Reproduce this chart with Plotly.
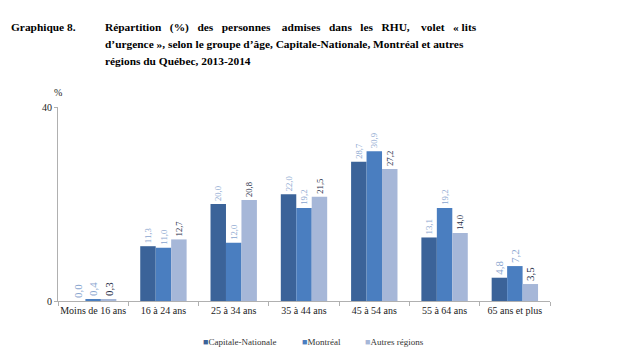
import plotly.graph_objects as go

categories = ["Moins de 16 ans", "16 à 24 ans", "25 à 34 ans", "35 à 44 ans",
              "45 à 54 ans", "55 à 64 ans", "65 ans et plus"]
capitale = [0.0, 11.3, 20.0, 22.0, 28.7, 13.1, 4.8]
montreal = [0.4, 11.0, 12.0, 19.2, 30.9, 19.2, 7.2]
autres = [0.3, 12.7, 20.8, 21.5, 27.2, 14.0, 3.5]
series_names = ["Capitale-Nationale", "Montréal", "Autres régions"]
y_ticks = [0, 40]

colors = ["#3b6399", "#4a7ec0", "#a6b7d8"]
label_colors = ["#8aa6cf", "#8aa6cf", "#1d2a44"]

def fmt(v):
    return f"{v:.1f}".replace(".", ",")

font = "Times New Roman, Liberation Serif, serif"
fig = go.Figure()
for name, vals, c, lc in zip(series_names, [capitale, montreal, autres], colors, label_colors):
    fig.add_trace(go.Bar(
        x=categories, y=vals, name=name, marker=dict(color=c, line=dict(width=0)),
        text=[fmt(v) for v in vals], textposition="outside", textangle=-90,
        cliponaxis=False, showlegend=False,
        textfont=dict(family=font, size=11, color=lc),
    ))

L, R, T, B = 58, 85, 107, 56
PW, PH = 635 - L - R, 357 - T - B

fig.update_layout(
    width=635, height=357,
    margin=dict(l=L, r=R, t=T, b=B, autoexpand=False),
    paper_bgcolor="white", plot_bgcolor="white",
    barmode="group", bargap=0.34, bargroupgap=0,
    font=dict(family=font, size=10, color="#222"),
    xaxis=dict(showline=True, linecolor="#b0b0b0", linewidth=1,
               ticks="outside", tickcolor="#b0b0b0", ticklen=4,
               tickson="boundaries", showgrid=False, tickangle=0,
               tickfont=dict(family=font, size=10, color="#222")),
    yaxis=dict(range=[0, 40], tickvals=y_ticks, showline=True, linecolor="#b0b0b0",
               linewidth=1, showgrid=False, zeroline=False, ticks="outside",
               tickcolor="#b0b0b0", ticklen=3,
               tickfont=dict(family=font, size=10, color="#222")),
)

def py(pix):
    return 1 + (T - pix) / PH
def px(pix):
    return (pix - L) / PW

fig.add_annotation(text="%", xref="paper", yref="paper", x=0, y=py(92),
                   xanchor="center", yanchor="middle", showarrow=False,
                   font=dict(family=font, size=10, color="#222"))

# legend built from series names/colours
leg_x = [201, 300, 363]
for name, c, lx in zip(series_names, colors, leg_x):
    fig.add_annotation(text=f'<span style="color:{c}">■</span>{name}',
                       xref="paper", yref="paper", x=px(lx), y=py(342),
                       xanchor="left", yanchor="middle", showarrow=False,
                       font=dict(family=font, size=9, color="#333"))

title_font = dict(family=font, size=11.4, color="black")
fig.add_annotation(text="<b>Graphique 8.</b>", xref="paper", yref="paper",
                   x=px(9), y=py(27), yanchor="middle", xanchor="left", showarrow=False,
                   font=title_font)
nb = "\u00a0"
line1_words = ["Répartition", "(%)", "des", "personnes", "admises", "dans", "les", "RHU,", "volet", "«" + nb + "lits"]
gaps = [2, 2, 2, 3, 2, 2, 2, 3, 2]
line1 = line1_words[0]
for w, g in zip(line1_words[1:], gaps):
    line1 += " " + nb * g + w
lines = ["<b>" + line1 + "</b>",
         "<b>d’urgence », selon le groupe d’âge, Capitale-Nationale, Montréal et autres</b>",
         "<b>régions du Québec, 2013-2014</b>"]
ys = [27, 44, 61]
for t, yy in zip(lines, ys):
    fig.add_annotation(text=t, xref="paper", yref="paper",
                       x=px(103), y=py(yy), xanchor="left", yanchor="middle",
                       showarrow=False, font=title_font)

fig.write_html("out.html", config={"displayModeBar": False},
               post_script="document.body.style.margin='0';")
